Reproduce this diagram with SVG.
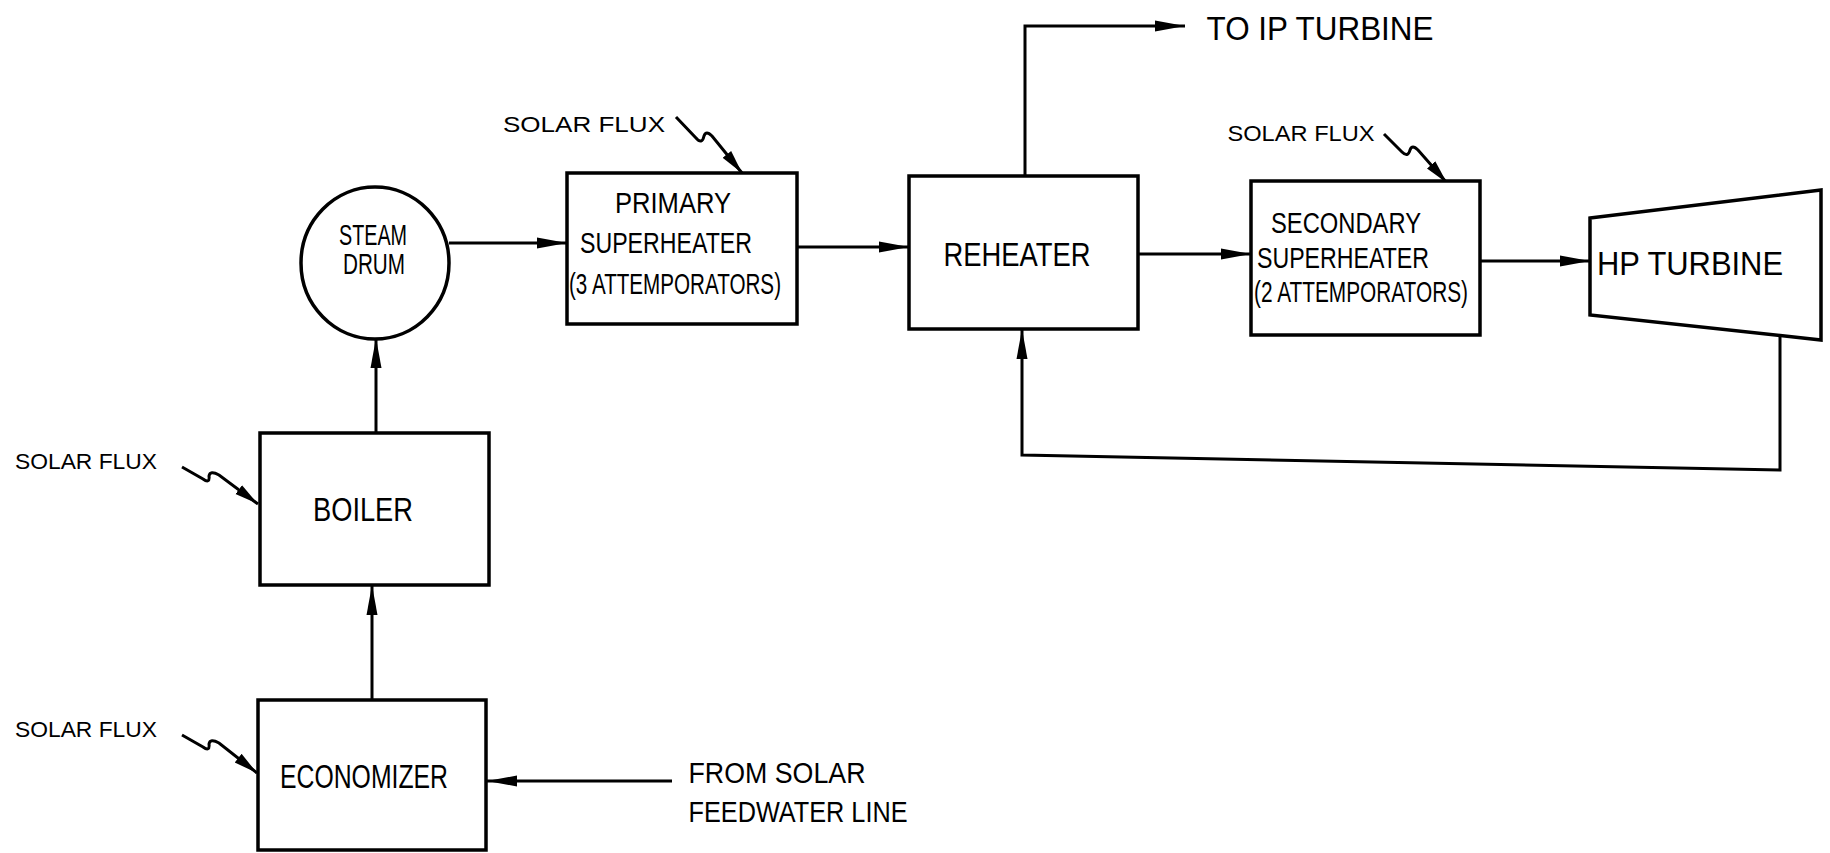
<svg xmlns="http://www.w3.org/2000/svg" width="1830" height="853" viewBox="0 0 1830 853">
<style>
.box{fill:#fff;stroke:#000;stroke-width:3.5}
.ln{fill:none;stroke:#000;stroke-width:3}
.t{font-family:"Liberation Sans",Arial,sans-serif;fill:#000;text-anchor:middle}
.big{font-size:34px}
.sm{font-size:22px}
.lbl{font-size:29px}
</style>
<defs>
<marker id="ah" markerUnits="userSpaceOnUse" markerWidth="32" markerHeight="14" refX="30" refY="7" orient="auto">
<path d="M0,1.5 L30,7 L0,12.5 z" fill="#000"/>
</marker>
<marker id="ahs" markerUnits="userSpaceOnUse" markerWidth="26" markerHeight="14" refX="24" refY="7" orient="auto">
<path d="M0,1.5 L24,7 L0,12.5 z" fill="#000"/>
</marker>
</defs>
<rect width="1830" height="853" fill="#fff"/>

<g id="connectors">
<path class="ln" d="M449,243 L567,243" marker-end="url(#ah)"/>
<path class="ln" d="M797,247 L909,247" marker-end="url(#ah)"/>
<path class="ln" d="M1138,254 L1251,254" marker-end="url(#ah)"/>
<path class="ln" d="M1480,261 L1590,261" marker-end="url(#ah)"/>
<path class="ln" d="M1025,176 L1025,26 L1185,26" marker-end="url(#ah)"/>
<path class="ln" d="M1780,336 L1780,470 L1022,455 L1022,329" marker-end="url(#ah)"/>
<path class="ln" d="M372,700 L372,585" marker-end="url(#ah)"/>
<path class="ln" d="M376,432 L376,338" marker-end="url(#ah)"/>
<path class="ln" d="M672,781 L487,781" marker-end="url(#ah)"/>
<path class="ln" d="M182,467 L203,479 Q210,484 209,476 Q210,470 219,475 L258,504" marker-end="url(#ahs)"/>
<path class="ln" d="M182,735 L203,747 Q210,752 209,744 Q210,738 219,743 L257,773" marker-end="url(#ahs)"/>
<path class="ln" d="M676,117 L696,138 Q702,145 704,136 Q706,130 712,136 L742,173" marker-end="url(#ahs)"/>
<path class="ln" d="M1384,134 L1402,152 Q1408,158 1410,150 Q1412,144 1418,150 L1447,183" marker-end="url(#ahs)"/>
</g>

<g id="steam-drum">
<ellipse class="box" cx="375" cy="263" rx="74" ry="76"/>
<text class="t lbl" x="373" y="245" textLength="68" lengthAdjust="spacingAndGlyphs">STEAM</text>
<text class="t lbl" x="374" y="274" textLength="62" lengthAdjust="spacingAndGlyphs">DRUM</text>
</g>

<g id="primary-superheater">
<rect class="box" x="567" y="173" width="230" height="151"/>
<text class="t lbl" x="673" y="213" textLength="116" lengthAdjust="spacingAndGlyphs">PRIMARY</text>
<text class="t lbl" x="666" y="253" textLength="172" lengthAdjust="spacingAndGlyphs">SUPERHEATER</text>
<text class="t lbl" x="675" y="294" textLength="212" lengthAdjust="spacingAndGlyphs">(3 ATTEMPORATORS)</text>
</g>

<g id="reheater">
<rect class="box" x="909" y="176" width="229" height="153"/>
<text class="t big" x="1017" y="266" textLength="147" lengthAdjust="spacingAndGlyphs">REHEATER</text>
</g>

<g id="secondary-superheater">
<rect class="box" x="1251" y="181" width="229" height="154"/>
<text class="t lbl" x="1346" y="233" textLength="150" lengthAdjust="spacingAndGlyphs">SECONDARY</text>
<text class="t lbl" x="1343" y="268" textLength="172" lengthAdjust="spacingAndGlyphs">SUPERHEATER</text>
<text class="t lbl" x="1361" y="302" textLength="214" lengthAdjust="spacingAndGlyphs">(2 ATTEMPORATORS)</text>
</g>

<g id="hp-turbine">
<path class="box" d="M1590,218 L1821,190 L1821,340 L1590,315 z"/>
<text class="t big" x="1690" y="275" textLength="186" lengthAdjust="spacingAndGlyphs">HP TURBINE</text>
</g>

<g id="boiler">
<rect class="box" x="260" y="433" width="229" height="152"/>
<text class="t big" x="363" y="521" textLength="100" lengthAdjust="spacingAndGlyphs">BOILER</text>
</g>

<g id="economizer">
<rect class="box" x="258" y="700" width="228" height="150"/>
<text class="t big" x="364" y="788" textLength="168" lengthAdjust="spacingAndGlyphs">ECONOMIZER</text>
</g>

<g id="labels">
<text class="t big" x="1320" y="40" textLength="227" lengthAdjust="spacingAndGlyphs">TO IP TURBINE</text>
<text class="t sm" x="584" y="132" textLength="162" lengthAdjust="spacingAndGlyphs">SOLAR FLUX</text>
<text class="t sm" x="1301" y="141" textLength="147" lengthAdjust="spacingAndGlyphs">SOLAR FLUX</text>
<text class="t sm" x="86" y="469" textLength="142" lengthAdjust="spacingAndGlyphs">SOLAR FLUX</text>
<text class="t sm" x="86" y="737" textLength="142" lengthAdjust="spacingAndGlyphs">SOLAR FLUX</text>
<text class="t lbl" x="777" y="783" textLength="177" lengthAdjust="spacingAndGlyphs">FROM SOLAR</text>
<text class="t lbl" x="798" y="822" textLength="219" lengthAdjust="spacingAndGlyphs">FEEDWATER LINE</text>
</g>
</svg>
